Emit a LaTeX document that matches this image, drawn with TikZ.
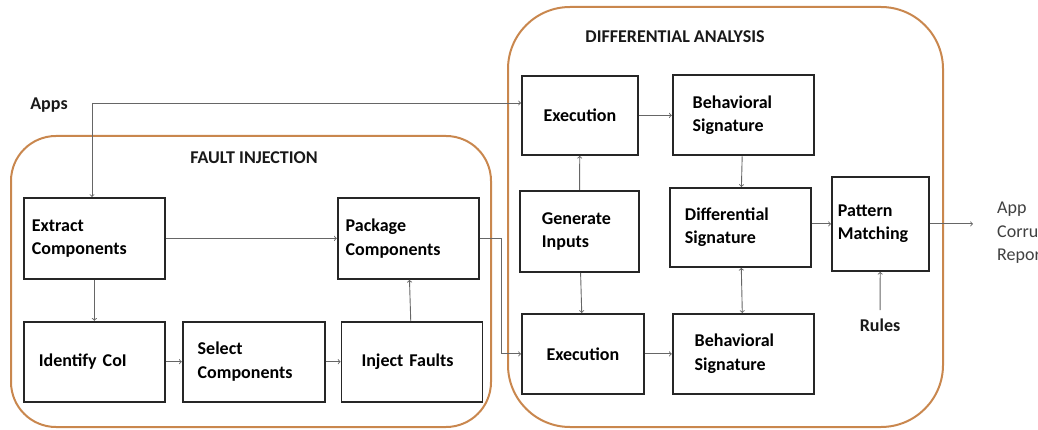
\documentclass[tikz,border=0pt]{standalone}
\usepackage{fontspec}
\setmainfont{Carlito}
\usetikzlibrary{positioning}
\definecolor{phaseorange}{RGB}{201,135,78}
\tikzset{
	boxfont/.style ={font={\fontsize{18}{23.5}\selectfont\bfseries}},
	stage/.append style={
		draw=black!85,
		line width=1.8pt,
		minimum height=80pt,
		align=left,
		boxfont,
	},
	phase/.append style={
		draw=phaseorange,
		line width=2pt,
	},
	heading/.append style={
		boxfont,
		text=black!90,
	},
	flow/.append style={
		->,
		draw=black!60,
		line width=0.9pt,
	}
}

\begin{document}
\begin{tikzpicture}[x=1pt, y=-1pt]
\useasboundingbox (0,0) rectangle (1038,430);

% the two phases
\draw[phase, rounded corners=45pt] (11,136) rectangle (491,427);
\draw[phase, rounded corners=62pt] (508,7) rectangle (943,427);
\node(faulttitle)[heading] at (254,158) {FAULT INJECTION};
\node(difftitle)[heading] at (675,37) {DIFFERENTIAL ANALYSIS};

\node(apps)[heading] at (49,105) {Apps};
\coordinate(split) at (92,103);

% fault injection
\node(ext)[stage, anchor=north west, text width=125pt, inner xsep=8pt, minimum height=81pt] at (23,197) {Extract\\Components};
\node(pkg)[stage, right = 171pt of ext, text width=125pt, inner xsep=8pt, minimum height=81pt] {Package\\Components};
\node(idf)[stage, below = 41pt of ext, text width=111pt, inner xsep=15pt] {Identify CoI};
\node(sel)[stage, right = 16pt of idf, text width=112pt, inner xsep=15pt] {Select\\Components};
\node(inj)[stage, right = 15pt of sel, text width=101pt, inner xsep=20pt] {Inject Faults};

% differential analysis
\node(exe1)[stage, anchor=north west, minimum width=116pt, minimum height=79pt, align=center] at (521,75) {Execution};
\node(bs1)[stage, right = 33pt of exe1, text width=101pt, inner xsep=20pt] {Behavioral\\Signature};
\node(gen)[stage, anchor=north west, text width=75pt, inner xsep=22pt, minimum height=81pt] at (519,190) {Generate\\Inputs};
\node(dif)[stage, anchor=north west, text width=111pt, inner xsep=15pt, minimum height=79pt] at (669,187) {Differential\\Signature};
\node(pat)[stage, anchor=north west, text width=85pt, inner xsep=6pt, minimum height=94pt] at (831,176) {Pattern\\Matching};
\node(exe2)[stage, anchor=north west, minimum width=122pt, align=center] at (521,313) {Execution};
\node(bs2)[stage, right = 27pt of exe2, text width=97pt, inner xsep=22pt] {Behavioral\\Signature};

\node(rules)[heading] at (880,325) {Rules};
\node(report)[anchor=north west, align=left, inner sep=0pt, text=black!75, font={\fontsize{18}{23.5}\selectfont}] at (997,202) {App\\Corruption\\Report};

\draw[flow] (split) -- (split -| exe1.west);
\draw[flow] (split) -- (split |- ext.north);
\draw[flow] (ext) -- (pkg);
\draw[flow] (ext) -- (idf);
\draw[flow] (idf) -- (sel);
\draw[flow] (sel) -- (inj);
\draw[flow] (inj) -- (pkg);
\draw[flow] (pkg.east) -- ++(22,0) |- (exe2.west);

\draw[flow] (exe1) -- (bs1);
\draw[flow] (gen) -- (exe1);
\draw[flow] (gen) -- (exe2);
\draw[flow] (exe2) -- (bs2);
\draw[flow] (bs1) -- (dif);
\draw[flow, <->] (dif) -- (bs2);
\draw[flow] (dif.east |- pat.west) -- (pat.west);
\draw[flow, shorten >=24pt] (pat.east) -- (pat.east -| report.west);
\draw[flow, shorten <=5pt] (rules) -- (pat);
\end{tikzpicture}
\end{document}
